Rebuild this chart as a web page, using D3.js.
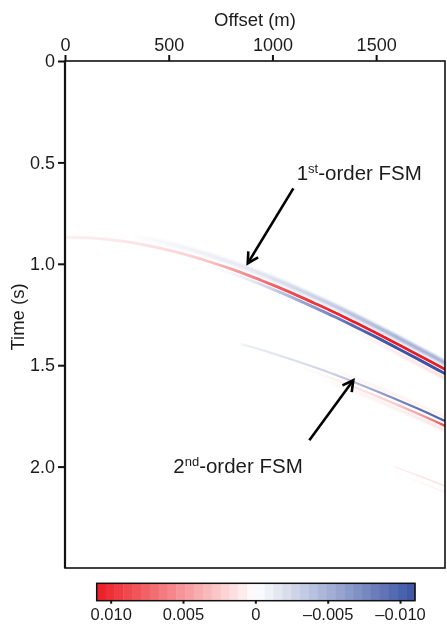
<!DOCTYPE html>
<html><head><meta charset="utf-8">
<script src="https://cdn.jsdelivr.net/npm/d3@7"></script>
<style>
body{margin:0;background:#fff}
svg{display:block}
text{font-family:"Liberation Sans",Arial,Helvetica,sans-serif;fill:#1c1c1c}
</style>
</head><body>
<svg id="c" width="447" height="626"></svg>
<script>
// ---------- data ----------
const xTicks = [0, 500, 1000, 1500];
const yTicks = [0, 0.5, 1.0, 1.5, 2.0];
const cbTicks = [0.010, 0.005, 0, -0.005, -0.010];

// Event 1 (upper event, pointed at by "1st-order FSM")
const ev1Offsets = [0,100,200,300,400,500,600,700,800,900,1000,1100,1200,1300,1400,1500,1600,1700,1800,1840];
const ev1Times   = [0.868,0.871,0.879,0.892,0.910,0.933,0.960,0.991,1.025,1.063,1.104,1.147,1.193,1.240,1.290,1.341,1.394,1.448,1.503,1.525];
const ev1Shifts  = [-0.032, 0, 0.021, 0.045];
const ev1Amps = [
  [0,0,0,0,-0.0003,-0.0006,-0.0008,-0.001,-0.0013,-0.0016,-0.002,-0.0025,-0.003,-0.0035,-0.004,-0.0045,-0.005,-0.005,-0.005,-0.005],
  [0.0008,0.0009,0.001,0.0012,0.0015,0.0018,0.0022,0.003,0.0045,0.006,0.0075,0.0088,0.0098,0.0105,0.011,0.011,0.011,0.011,0.011,0.011],
  [0,0,0,0,0,0,0,0,-0.0005,-0.0015,-0.003,-0.005,-0.0065,-0.008,-0.0095,-0.0105,-0.011,-0.011,-0.011,-0.011],
  [0,0,0,0,0,0,0,0,0,0,0,0,0,0,0.0004,0.0008,0.0012,0.0015,0.0018,0.0018]
];

// Event 2 (lower event, pointed at by "2nd-order FSM")
const ev2Offsets = [850,900,1000,1100,1200,1300,1400,1500,1600,1700,1800,1840];
const ev2Times   = [1.396,1.410,1.441,1.474,1.509,1.546,1.586,1.627,1.670,1.714,1.760,1.779];
const ev2Shifts  = [-0.020, 0, 0.024, 0.045];
const ev2Amps = [
  [0,0,0,0,0,0.0003,0.0006,0.0008,0.0008,0.0008,0.0008,0.0008],
  [-0.0008,-0.0012,-0.0016,-0.002,-0.0025,-0.0032,-0.0042,-0.0058,-0.0075,-0.009,-0.010,-0.0105],
  [0,0,0,0,0.0003,0.0007,0.0012,0.0018,0.0028,0.0045,0.0075,0.0095],
  [0,0,0,0,0,0.0003,0.0006,0.0008,0.001,0.0012,0.0014,0.0014]
];

// Event 3 (faint event at bottom right)
const ev3Offsets = [1590,1700,1800,1840];
const ev3Times   = [2.001,2.043,2.083,2.100];
const ev3Shifts  = [0, 0.030];
const ev3Amps = [
  [0.0008,0.0012,0.0015,0.0015],
  [0,0.0004,0.0008,0.0008]
];

// annotations (data coordinates: offset m, time s)
const annLabels = [
  {main:"1", sup:"st", rest:"-order FSM", offset:1117, time:0.587},
  {main:"2", sup:"nd", rest:"-order FSM", offset:522, time:2.033}
];
const annArrows = [
  {fromOffset:1101, fromTime:0.628, toOffset:881, toTime:0.998},
  {fromOffset:1178, fromTime:1.870, toOffset:1390, toTime:1.574}
];

// ---------- drawing ----------
const svg = d3.select("#c");
const x = d3.scaleLinear().domain([0, 1832]).range([65, 445]);
const y = d3.scaleLinear().domain([0, 2.5]).range([61, 568]);
const color = d3.scaleLinear().domain([0.011, 0, -0.011]).range(["#ec1c24", "#ffffff", "#3a53a4"]);

const defs = svg.append("defs");
defs.append("clipPath").attr("id", "plotclip").append("rect")
  .attr("x", x(0)).attr("y", y(0)).attr("width", x(1832) - x(0)).attr("height", y(2.5) - y(0));
defs.append("filter").attr("id", "soft").attr("x", "-5%").attr("y", "-50%").attr("width", "110%").attr("height", "200%")
  .append("feGaussianBlur").attr("stdDeviation", 1.0);

const plot = svg.append("g").attr("clip-path", "url(#plotclip)");

const events = [
  {id:"e1", offsets:ev1Offsets, times:ev1Times, shifts:ev1Shifts, amps:ev1Amps, widths:[4.5, 2.8, 3.0, 3], blur:[true,false,false,true]},
  {id:"e2", offsets:ev2Offsets, times:ev2Times, shifts:ev2Shifts, amps:ev2Amps, widths:[2.5, 2.2, 2.3, 3], blur:[true,false,false,true]},
  {id:"e3", offsets:ev3Offsets, times:ev3Times, shifts:ev3Shifts, amps:ev3Amps, widths:[1.4, 1.2], blur:[false,false]}
];

events.forEach(ev => {
  const x1 = x(ev.offsets[0]), x2 = x(ev.offsets[ev.offsets.length - 1]);
  ev.shifts.forEach((s, li) => {
    const gid = `g-${ev.id}-${li}`;
    const grad = defs.append("linearGradient").attr("id", gid)
      .attr("gradientUnits", "userSpaceOnUse")
      .attr("x1", x1).attr("x2", x2).attr("y1", 0).attr("y2", 0);
    ev.offsets.forEach((o, i) => {
      grad.append("stop").attr("offset", (x(o) - x1) / (x2 - x1)).attr("stop-color", color(ev.amps[li][i]));
    });
    const line = d3.line()
      .x((d, i) => x(ev.offsets[i]))
      .y((d, i) => y(ev.times[i] + s))
      .curve(d3.curveMonotoneX);
    const p = plot.append("path")
      .attr("d", line(ev.offsets))
      .attr("fill", "none")
      .attr("stroke", `url(#${gid})`)
      .attr("stroke-width", ev.widths[li])
      .style("mix-blend-mode", "multiply");
    if (ev.blur[li]) p.attr("filter", "url(#soft)");
  });
});

// axes
const topAxis = d3.axisTop(x).tickValues(xTicks).tickSize(6).tickSizeOuter(0).tickPadding(4).tickFormat(d3.format("d"));
const gTop = svg.append("g").attr("transform", `translate(0,${y(0)})`).call(topAxis);
gTop.select(".domain").remove();
gTop.selectAll(".tick line").attr("stroke", "#111").attr("stroke-width", 2);
gTop.selectAll(".tick text").attr("font-size", 18).attr("fill", "#1c1c1c").style("font-family", '"Liberation Sans",Arial,sans-serif');

const leftAxis = d3.axisLeft(y).tickValues(yTicks).tickSize(7).tickSizeOuter(0).tickPadding(3)
  .tickFormat(d => d === 0 ? "0" : d3.format(".1f")(d));
const gLeft = svg.append("g").attr("transform", `translate(${x(0)},0)`).call(leftAxis);
gLeft.select(".domain").remove();
gLeft.selectAll(".tick line").attr("stroke", "#111").attr("stroke-width", 2);
gLeft.selectAll(".tick text").attr("font-size", 18).attr("fill", "#1c1c1c").style("font-family", '"Liberation Sans",Arial,sans-serif');

// frame
svg.append("rect")
  .attr("x", x(0)).attr("y", y(0)).attr("width", x(1832) - x(0)).attr("height", y(2.5) - y(0))
  .attr("fill", "none").attr("stroke", "#111").attr("stroke-width", 1.6);
svg.append("line").attr("x1", x(0)).attr("x2", x(0)).attr("y1", y(0)).attr("y2", y(2.5))
  .attr("stroke", "#111").attr("stroke-width", 2.2);

// axis titles
svg.append("text").attr("x", 255).attr("y", 26).attr("text-anchor", "middle").attr("font-size", 18.5).text("Offset (m)");
svg.append("text").attr("transform", "translate(24,317) rotate(-90)").attr("text-anchor", "middle").attr("font-size", 18.5).text("Time (s)");

// annotations
annArrows.forEach(a => {
  const x0 = x(a.fromOffset), y0 = y(a.fromTime), xh = x(a.toOffset), yh = y(a.toTime);
  svg.append("line").attr("x1", x0).attr("y1", y0).attr("x2", xh).attr("y2", yh)
    .attr("stroke", "#000").attr("stroke-width", 2.6);
  const ang = Math.atan2(y0 - yh, x0 - xh), L = 12, sp = 0.5;
  const pts = [[xh + L * Math.cos(ang - sp), yh + L * Math.sin(ang - sp)], [xh, yh], [xh + L * Math.cos(ang + sp), yh + L * Math.sin(ang + sp)]];
  svg.append("path").attr("d", d3.line()(pts)).attr("fill", "none").attr("stroke", "#000")
    .attr("stroke-width", 2.6).attr("stroke-linejoin", "miter");
});
annLabels.forEach(a => {
  const t = svg.append("text").attr("x", x(a.offset)).attr("y", y(a.time)).attr("font-size", 20.5);
  t.append("tspan").text(a.main);
  t.append("tspan").attr("font-size", 13).attr("dy", -7).text(a.sup);
  t.append("tspan").attr("dy", 7).text(a.rest);
});

// colorbar
const cb = d3.scaleLinear().domain([0.011, -0.011]).range([96.7, 415]);
const cbY = 583.3, cbH = 17.4, nBands = 36;
const bands = d3.range(nBands);
const bw = (cb.range()[1] - cb.range()[0]) / nBands;
svg.append("g").selectAll("rect").data(bands).join("rect")
  .attr("x", i => cb.range()[0] + i * bw).attr("y", cbY).attr("width", bw + 0.5).attr("height", cbH)
  .attr("fill", i => color(cb.invert(cb.range()[0] + (i + 0.5) * bw)));
svg.append("rect").attr("x", cb.range()[0]).attr("y", cbY).attr("width", cb.range()[1] - cb.range()[0]).attr("height", cbH)
  .attr("fill", "none").attr("stroke", "#111").attr("stroke-width", 1.5);
const cbFmt = d => d === 0 ? "0" : (d < 0 ? "\u2013" : "") + Math.abs(d).toFixed(3);
const gcb = svg.append("g");
cbTicks.forEach(v => {
  gcb.append("line").attr("x1", cb(v)).attr("x2", cb(v)).attr("y1", cbY + cbH).attr("y2", cbY + cbH + 3)
    .attr("stroke", "#111").attr("stroke-width", 2);
  gcb.append("text").attr("x", cb(v)).attr("y", 620).attr("text-anchor", "middle").attr("font-size", 16.5).text(cbFmt(v));
});
</script>
</body></html>
